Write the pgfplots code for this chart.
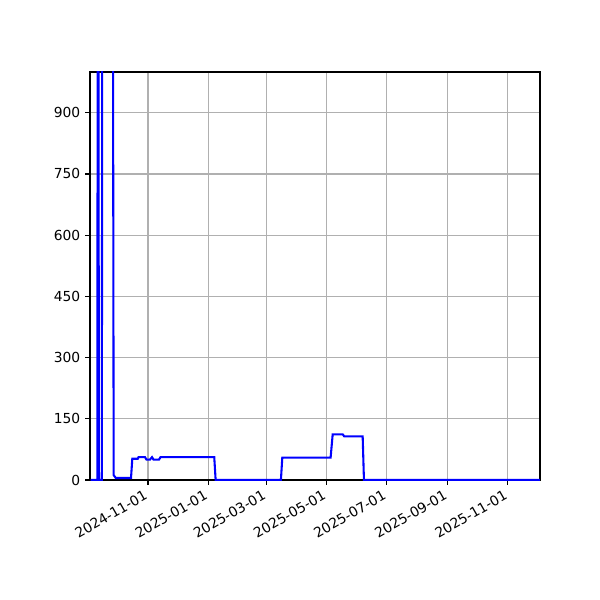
\documentclass[border=0pt]{standalone}
\usepackage{fontspec}
\setmainfont{DejaVu Sans}
\usepackage{pgfplots}
\pgfplotsset{compat=1.18}

% x in days since 2024-11-01
\begin{document}
\begin{tikzpicture}
\path[use as bounding box] (0,0) rectangle (433.62pt,433.62pt);
\begin{axis}[
    at={(65.04pt,86.72pt)},
    anchor=south west,
    scale only axis,
    width=325.2pt,
    height=294.9pt,
    xmin=-58.8, xmax=397.5,
    ymin=0, ymax=1000,
    xtick={0,61,120,181,242,304,365},
    xticklabels={2024-11-01,2025-01-01,2025-03-01,2025-05-01,2025-07-01,2025-09-01,2025-11-01},
    xticklabel style={rotate=30, anchor=north east, font=\fontsize{10}{12}\selectfont, inner sep=1pt, xshift=-3.5pt},
    ytick={0,150,300,450,600,750,900},
    yticklabel style={font=\fontsize{10}{12}\selectfont},
    /pgf/number format/assume math mode=true,
    grid=major,
    major grid style={color=black!31, line width=0.8pt},
    axis line style={line width=0.8pt},
    tick style={black, line width=0.8pt},
    tick align=outside,
    major tick length=3.5pt,
    xtick pos=bottom, ytick pos=left,
    clip=true,
]
\addplot[color=blue, line width=1.5pt] coordinates {
    (-58.1,0) (-51.4,0) (-50.7,2000) (-49.7,0) (-46.8,0) (-46.1,2000)
    (-36.0,2000) (-34.8,12) (-32.7,5) (-17.2,5) (-15.9,52) (-10.4,52)
    (-9.6,56) (-3.0,56) (-1.5,50) (2.0,50) (4.1,56) (5.6,50) (11.2,50)
    (12.7,56) (67.2,56) (68.6,0) (134.8,0) (136.2,55) (185.2,55)
    (187.3,112) (197.4,112) (199.0,107) (217.7,107) (219.0,0) (397.5,0)
};
\end{axis}
\end{tikzpicture}
\end{document}
